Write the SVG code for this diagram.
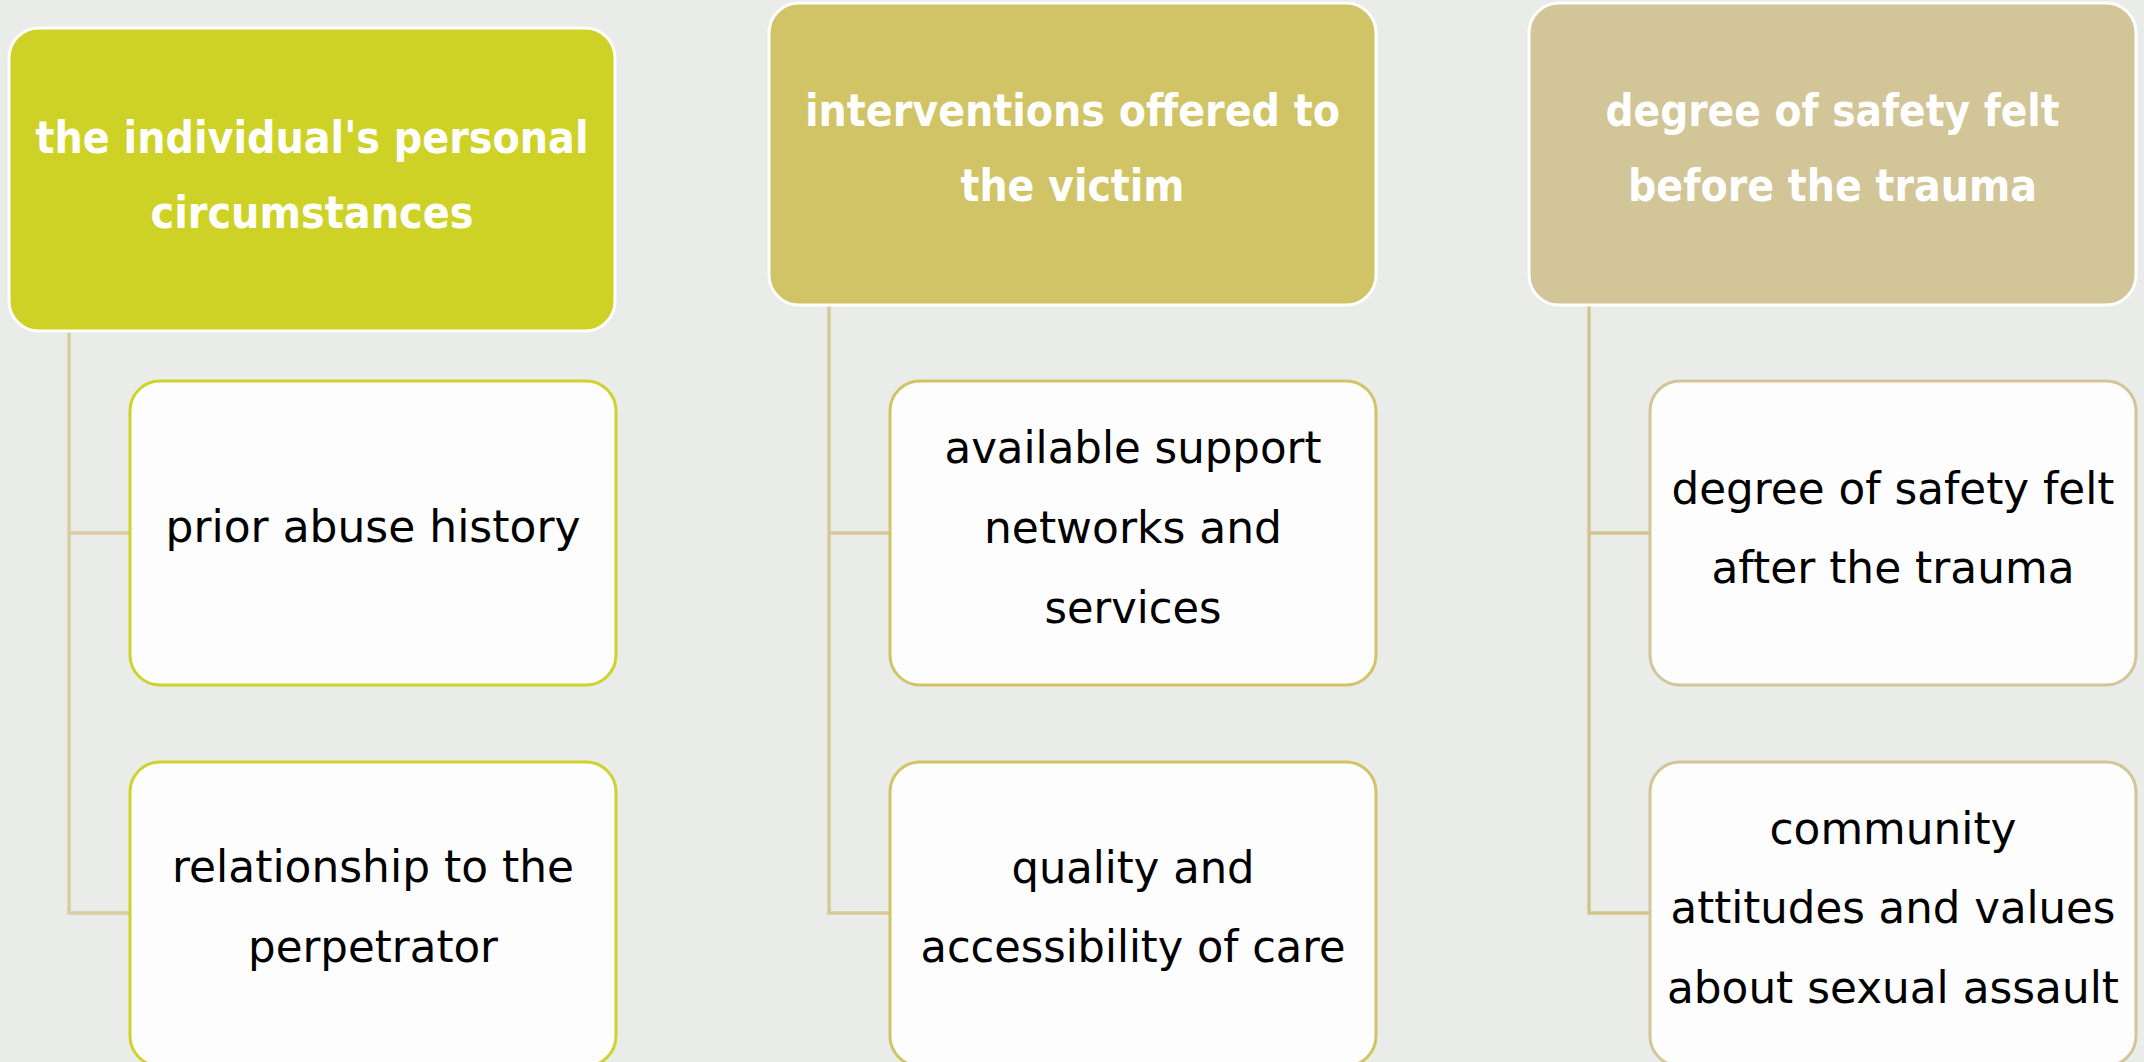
<svg xmlns="http://www.w3.org/2000/svg" width="2144" height="1062" viewBox="0 0 2144 1062">
  <style>
    .bg { fill: #EAECE9; }
    .hdr { stroke: #FFFFFF; stroke-width: 3; }
    .child { fill: #FDFDFD; stroke-width: 3; }
    .conn { fill: none; stroke-width: 3.5; }
    .ht { font-family: "DejaVu Sans", "Liberation Sans", sans-serif; font-weight: bold; font-size: 45px; fill: #FFFFFF; text-anchor: middle; }
    .ct { font-family: "DejaVu Sans", "Liberation Sans", sans-serif; font-size: 44px; fill: #000000; text-anchor: middle; }
  </style>
  <rect class="bg" x="0" y="0" width="2144" height="1062"/>

  <g id="connectors">
    <path class="conn" stroke="#D8CCA0" d="M69 331 V913 H130 M69 533 H130"/>
    <path class="conn" stroke="#D6CA9A" d="M829 305 V913 H890 M829 533 H890"/>
    <path class="conn" stroke="#D3C48E" d="M1589 305 V913 H1650 M1589 533 H1650"/>
  </g>

  <g id="h1">
    <rect class="hdr" x="9" y="28" width="606" height="303" rx="30" fill="#CED226"/>
    <text class="ht" x="312" y="153" textLength="553" lengthAdjust="spacingAndGlyphs">the individual's personal</text>
    <text class="ht" x="312" y="228" textLength="323" lengthAdjust="spacingAndGlyphs">circumstances</text>
  </g>
  <g id="h2">
    <rect class="hdr" x="769" y="3" width="607" height="302" rx="30" fill="#D0C466"/>
    <text class="ht" x="1072.5" y="126" textLength="535" lengthAdjust="spacingAndGlyphs">interventions offered to</text>
    <text class="ht" x="1072.5" y="201" textLength="224" lengthAdjust="spacingAndGlyphs">the victim</text>
  </g>
  <g id="h3">
    <rect class="hdr" x="1529" y="3" width="607" height="302" rx="30" fill="#D2C597"/>
    <text class="ht" x="1832.5" y="126" textLength="454" lengthAdjust="spacingAndGlyphs">degree of safety felt</text>
    <text class="ht" x="1832.5" y="201" textLength="409" lengthAdjust="spacingAndGlyphs">before the trauma</text>
  </g>

  <g id="c1a">
    <rect class="child" x="130" y="381" width="486" height="304" rx="30" stroke="#CED22A"/>
    <text class="ct" x="373" y="542" textLength="415" lengthAdjust="spacingAndGlyphs">prior abuse history</text>
  </g>
  <g id="c1b">
    <rect class="child" x="130" y="762" width="486" height="304" rx="30" stroke="#CED22A"/>
    <text class="ct" x="373" y="882" textLength="402" lengthAdjust="spacingAndGlyphs">relationship to the</text>
    <text class="ct" x="373" y="962" textLength="250" lengthAdjust="spacingAndGlyphs">perpetrator</text>
  </g>
  <g id="c2a">
    <rect class="child" x="890" y="381" width="486" height="304" rx="30" stroke="#D0C466"/>
    <text class="ct" x="1133" y="463" textLength="377" lengthAdjust="spacingAndGlyphs">available support</text>
    <text class="ct" x="1133" y="543" textLength="298" lengthAdjust="spacingAndGlyphs">networks and</text>
    <text class="ct" x="1133" y="623" textLength="177" lengthAdjust="spacingAndGlyphs">services</text>
  </g>
  <g id="c2b">
    <rect class="child" x="890" y="762" width="486" height="304" rx="30" stroke="#D0C466"/>
    <text class="ct" x="1133" y="883" textLength="243" lengthAdjust="spacingAndGlyphs">quality and</text>
    <text class="ct" x="1133" y="962" textLength="425" lengthAdjust="spacingAndGlyphs">accessibility of care</text>
  </g>
  <g id="c3a">
    <rect class="child" x="1650" y="381" width="486" height="304" rx="30" stroke="#D2C597"/>
    <text class="ct" x="1893" y="504" textLength="443" lengthAdjust="spacingAndGlyphs">degree of safety felt</text>
    <text class="ct" x="1893" y="583" textLength="363" lengthAdjust="spacingAndGlyphs">after the trauma</text>
  </g>
  <g id="c3b">
    <rect class="child" x="1650" y="762" width="486" height="304" rx="30" stroke="#D2C597"/>
    <text class="ct" x="1893" y="844" textLength="247" lengthAdjust="spacingAndGlyphs">community</text>
    <text class="ct" x="1893" y="923" textLength="445" lengthAdjust="spacingAndGlyphs">attitudes and values</text>
    <text class="ct" x="1893" y="1003" textLength="452" lengthAdjust="spacingAndGlyphs">about sexual assault</text>
  </g>
</svg>
